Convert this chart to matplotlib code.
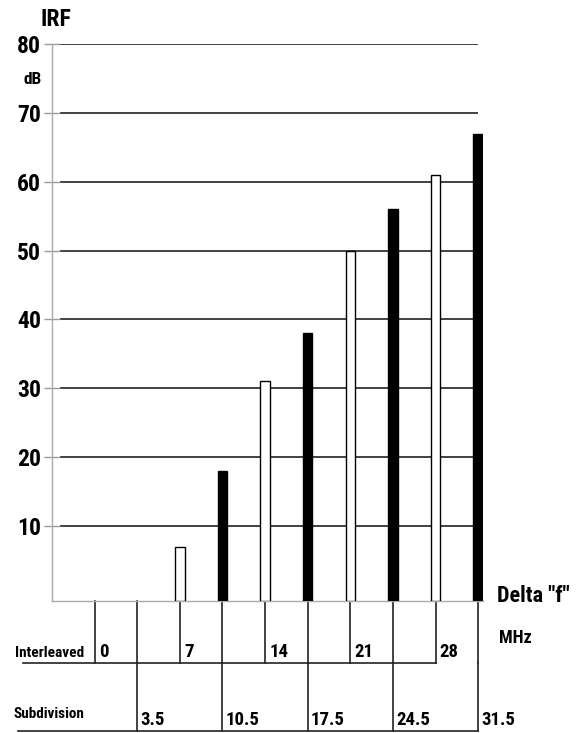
import matplotlib
matplotlib.use("Agg")
import matplotlib.pyplot as plt
from matplotlib import transforms

# IRF (dB) versus frequency spacing Delta f (MHz)
interleaved_mhz = [7, 14, 21, 28]
interleaved_irf = [7, 31, 50, 61]
subdivision_mhz = [10.5, 17.5, 24.5, 31.5]
subdivision_irf = [18, 38, 56, 67]

interleaved_labels = [0, 7, 14, 21, 28]
subdivision_labels = [3.5, 10.5, 17.5, 24.5, 31.5]
y_ticks = [10, 20, 30, 40, 50, 60, 70, 80]

FONT = ["Roboto Condensed", "Roboto", "DejaVu Sans"]
W, H = 585, 733


def fx(px):
    return px / W


def fy(py):
    return 1 - py / H


fig = plt.figure(figsize=(W / 100, H / 100), dpi=100)
ax = fig.add_axes([fx(52), fy(601), fx(483) - fx(52), fy(44) - fy(601)])

y0 = -0.9
ax.set_xlim(-3.5, 31.9)
ax.set_ylim(y0, 80)

# horizontal grid
ax.hlines(y_ticks, -2.85, 31.5, colors="#333333", linewidth=1.3, zorder=1)

bar_w = 0.78
ax.bar(interleaved_mhz, [v - y0 for v in interleaved_irf], bottom=y0, width=bar_w,
       color="white", edgecolor="black", linewidth=1.0, zorder=3)
ax.bar(subdivision_mhz, [v - y0 for v in subdivision_irf], bottom=y0, width=bar_w,
       color="black", edgecolor="black", linewidth=1.0, zorder=3)

for side in ["top", "right"]:
    ax.spines[side].set_visible(False)
for side in ["left", "bottom"]:
    ax.spines[side].set_color("#aaaaaa")
    ax.spines[side].set_linewidth(1.0)

ax.set_xticks([])
ax.set_yticks(y_ticks)
ax.set_yticklabels([str(t) for t in y_ticks], family=FONT, fontweight="bold", fontsize=17)
ax.tick_params(axis="y", direction="inout", length=11.5, width=1.0, color="#999999", pad=2)

# axis titles
fig.text(fx(40), fy(19), "IRF", family=FONT, fontweight="bold", fontsize=17,
         ha="left", va="center")
fig.text(fx(33), fy(80), "dB", family=FONT, fontweight="bold", fontsize=12.5,
         ha="center", va="center")
fig.text(fx(497), fy(596), 'Delta "f"', family=FONT, fontweight="bold", fontsize=16,
         ha="left", va="center")
fig.text(fx(499), fy(638), "MHz", family=FONT, fontweight="bold", fontsize=13,
         ha="left", va="center")

# frequency table under the axis
tr = transforms.blended_transform_factory(ax.transData, fig.transFigure)
row_top, row_mid, row_bot = fy(601), fy(663), fy(731)
line_kw = dict(color="#222222", linewidth=1.2, transform=tr, clip_on=False)

for m in sorted(interleaved_labels + subdivision_labels):
    ax.plot([m, m], [row_top, row_mid], **line_kw)
for m in subdivision_labels:
    ax.plot([m, m], [row_mid, row_bot], **line_kw)
ax.plot([-5.9, interleaved_labels[-1]], [row_mid, row_mid], **line_kw)
ax.plot([-6.3, subdivision_labels[-1]], [row_bot, row_bot], **line_kw)

for m in interleaved_labels:
    ax.text(m + 0.35, fy(657), f"{m:g}", transform=tr, family=FONT, fontsize=13.5,
            fontweight="bold", ha="left", va="baseline")
for m in subdivision_labels:
    ax.text(m + 0.25, fy(725), f"{m:g}", transform=tr, family=FONT, fontsize=13.5,
            fontweight="bold", ha="left", va="baseline")

fig.text(fx(15), fy(657), "Interleaved", family=FONT, fontweight="bold", fontsize=11,
         ha="left", va="baseline")
fig.text(fx(13), fy(718), "Subdivision", family=FONT, fontweight="bold", fontsize=11,
         ha="left", va="baseline")

fig.savefig("out.png", dpi=100, facecolor="white")
